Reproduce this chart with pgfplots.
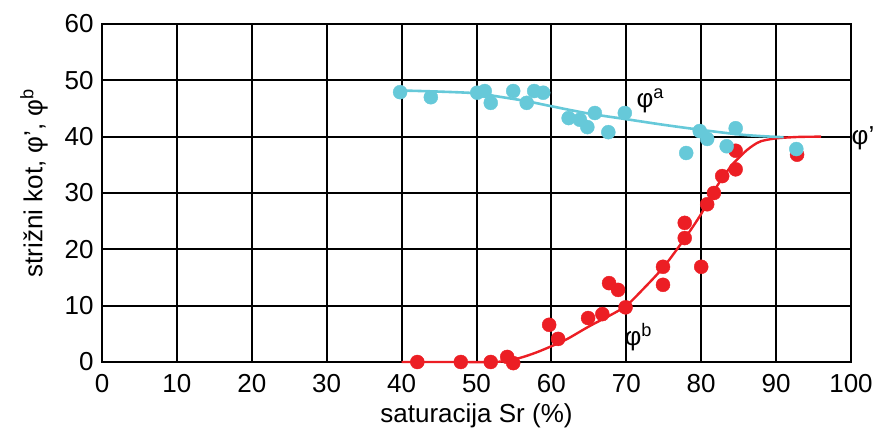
\documentclass[border=0pt]{standalone}
\usepackage{fontspec}
\setmainfont{Liberation Sans}
\usepackage{pgfplots}
\pgfplotsset{compat=1.18}
\definecolor{cblue}{RGB}{102,201,217}
\definecolor{cred}{RGB}{236,30,36}
\begin{document}
\begin{tikzpicture}
\begin{axis}[
  scale only axis, width=749pt, height=338pt,
  xmin=0, xmax=100, ymin=0, ymax=60,
  xtick={0,10,...,100}, ytick={0,10,...,60},
  grid=major, major grid style={black, line width=2pt},
  axis line style={line width=2.5pt},
  major tick length=0pt,
  font=\fontsize{26}{30}\selectfont,
  /pgf/number format/assume math mode=true,
  xticklabel style={yshift=-9pt},
  yticklabel style={xshift=-5pt},
  xlabel={saturacija Sr (\%)},
  ylabel={strižni kot, φ', φ\textsuperscript{b}},
  xlabel style={yshift=-4pt},
  ylabel style={yshift=10pt, xshift=10pt},
  clip=false,
]
% red fitted curve
\addplot[cred, line width=2.4pt, smooth, tension=0.5] coordinates {
 (40,0) (46,0) (52,0) (54,0.2) (56,0.8) (58,1.7) (60,2.8) (62,4.0) (65,6.3) (68,8.4) (70,10.0)
 (72,12.6) (75,16.9) (78,22.3) (80,26.3) (82,31.0) (84,34.8) (85,36.2) (86,37.5) (87,38.5)
 (88,39.2) (90,39.7) (93,39.95) (96,40)
};
% blue fitted curve
\addplot[cblue, line width=2.6pt, smooth, tension=0.5] coordinates {
 (39.8,48.2) (45,48.0) (50,47.7) (53,47.1) (56.7,46.3) (60,45.4) (65,44.1) (70,43.1)
 (75,42.1) (80,41.2) (85,40.4) (88,40.1) (91,39.9)
};
% red points
\addplot[cred, only marks, mark=*, mark size=7pt, mark options={draw=cred, fill=cred}] coordinates {
 (42.1,0) (47.9,0) (51.9,0) (54.1,0.9) (54.9,-0.2) (59.7,6.6) (60.9,4.1) (64.9,7.8)
 (66.8,8.5) (69.9,9.7) (67.7,14.0) (68.9,12.8) (74.9,16.9) (74.9,13.7) (77.8,24.7)
 (77.8,22.0) (80.0,16.9) (80.8,28.0) (81.7,30.0) (82.8,33.0) (84.6,34.2) (84.6,37.5) (92.8,36.8)
};
% blue points
\addplot[cblue, only marks, mark=*, mark size=7pt, mark options={draw=cblue, fill=cblue}] coordinates {
 (39.8,47.9) (43.9,47.0) (50.1,47.8) (51.1,48.1) (51.9,46.0) (54.9,48.1) (56.7,46.0)
 (57.7,48.1) (58.9,47.8) (62.3,43.3) (63.8,43.0) (64.8,41.7) (65.8,44.2) (67.6,40.8)
 (69.8,44.2) (78.0,37.1) (79.8,41.0) (80.8,39.6) (83.4,38.3) (84.6,41.5) (92.7,37.8)
};
\node at (axis cs:73.2,46.3) {φ\textsuperscript{a}};
\node at (axis cs:71.6,4.4) {φ\textsuperscript{b}};
\node at (axis cs:101.6,39.8) {φ'};
\end{axis}
\pgfresetboundingbox
\path[use as bounding box] (current axis.south west) ++(-102pt,-73pt) rectangle ++(875pt,435pt);
\end{tikzpicture}
\end{document}
